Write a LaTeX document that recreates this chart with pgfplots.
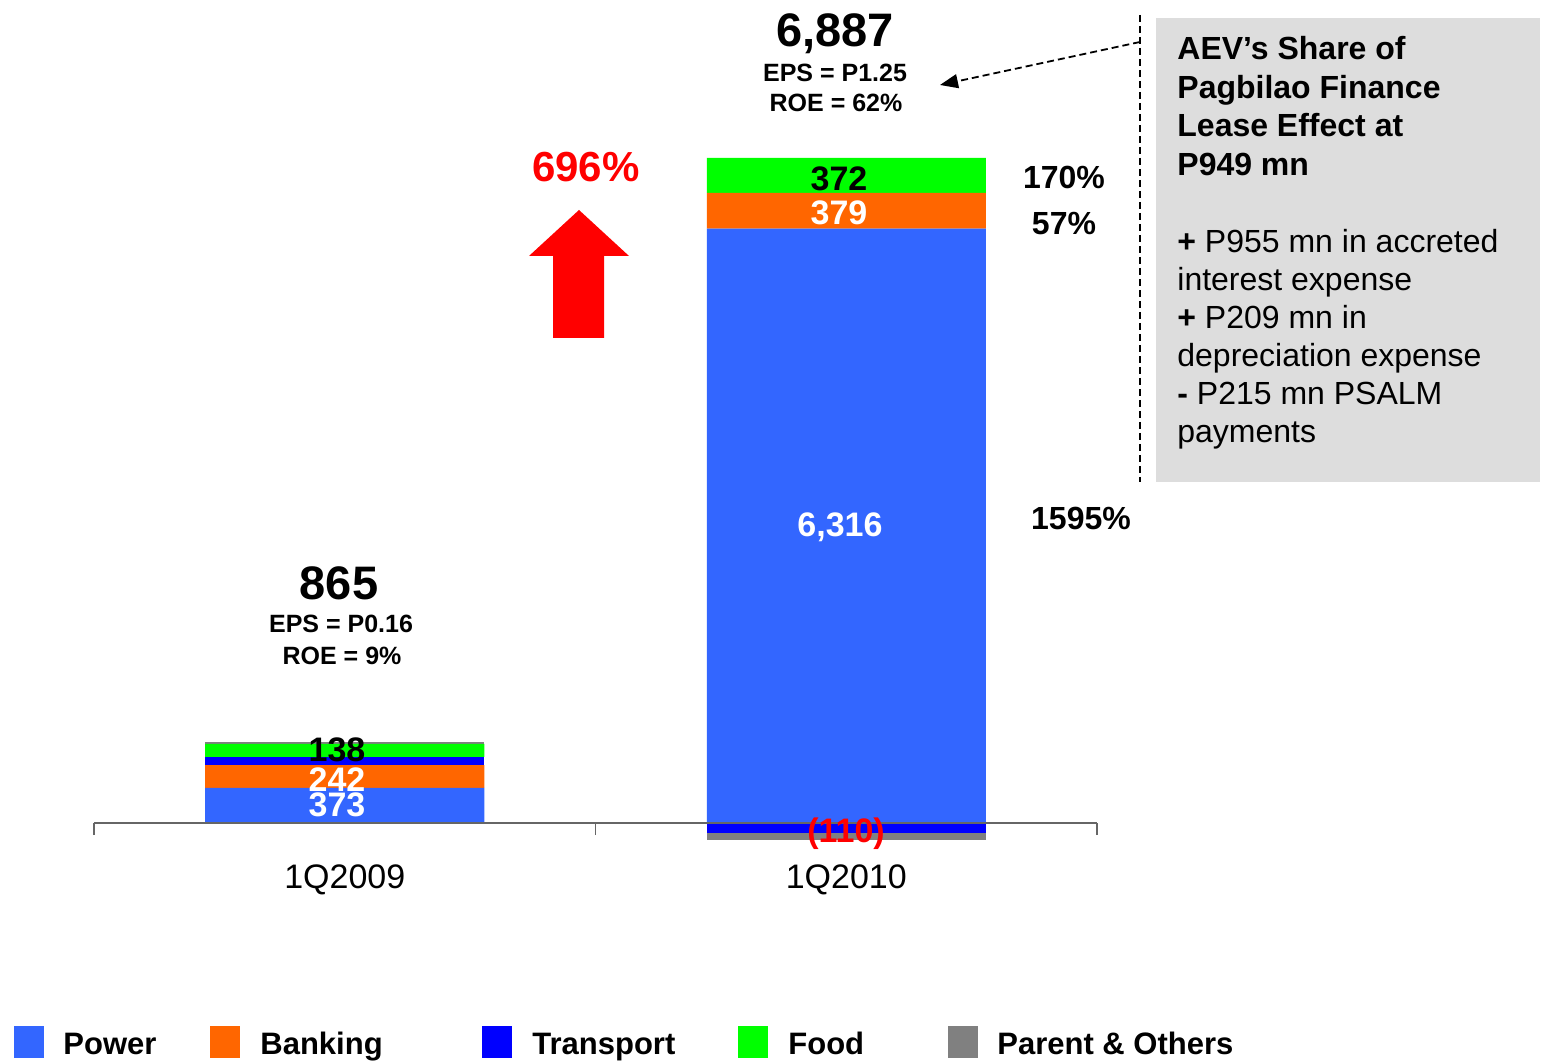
\documentclass[border=0pt]{standalone}
\usepackage{fontspec}
\setmainfont{Liberation Sans}
\usepackage{pgfplots}
\pgfplotsset{compat=1.18}
\usetikzlibrary{arrows.meta}
\definecolor{cPower}{HTML}{3366FF}
\definecolor{cBanking}{HTML}{FF6600}
\definecolor{cTransport}{HTML}{0000FF}
\definecolor{cFood}{HTML}{00FF00}
\definecolor{cParent}{HTML}{808080}
\definecolor{cBox}{HTML}{DDDDDD}
\newcommand{\fs}[1]{\fontsize{#1}{#1}\selectfont}
\begin{document}
\begin{tikzpicture}
% negative parts (1Q2010)
\begin{axis}[hide axis, at={(47pt,82.35pt)}, anchor=south west, scale only axis,
  width=501.5pt, height=414.05pt, xmin=-0.5, xmax=1.5, ymin=-800, ymax=8000,
  ybar stacked, bar width=139.5pt]
\addplot[fill=cTransport, draw=none] coordinates {(1,-110)};
\addplot[fill=cParent, draw=none] coordinates {(1,-70)};
\end{axis}
% positive parts
\begin{axis}[at={(47pt,82.35pt)}, anchor=south west, scale only axis,
  width=501.5pt, height=414.05pt, xmin=-0.5, xmax=1.5, ymin=-800, ymax=8000,
  ybar stacked, bar width=139.5pt, axis on top,
  axis x line*=middle, axis y line=none,
  xtick={0,1}, xticklabels={1Q2009,1Q2010},
  minor xtick={-0.5,0.5,1.5}, major tick length=0pt, minor tick length=6pt,
  tick align=outside,
  x axis line style={draw=gray!80!black, line width=0.8pt},
  tick style={draw=gray!80!black, line width=0.8pt},
  xticklabel style={font=\fs{17}, yshift=-17.5pt}]
\addplot[fill=cPower, draw=none] coordinates {(0,373) (1,6316)};
\addplot[fill=cBanking, draw=none] coordinates {(0,242) (1,379)};
\addplot[fill=cTransport, draw=none] coordinates {(0,88) (1,0)};
\addplot[fill=cFood, draw=none] coordinates {(0,138) (1,372)};
\addplot[fill=cParent, draw=none] coordinates {(0,24) (1,0)};
\end{axis}
\begin{scope}[x=0.5pt, y=-0.5pt, shift={(0pt,531.5pt)}]
% bar labels
\node[anchor=base, font=\bfseries\fs{17}, text=white] at (337,817) {373};
\node[anchor=base, font=\bfseries\fs{17}, text=white] at (337,792) {242};
\node[anchor=base, font=\bfseries\fs{17}, text=black] at (337,762) {138};
\node[anchor=base, font=\bfseries\fs{17}, text=black] at (839,191) {372};
\node[anchor=base, font=\bfseries\fs{17}, text=white] at (839,225) {379};
\node[anchor=base, font=\bfseries\fs{17}, text=white] at (840,537) {6,316};
\node[anchor=base, font=\bfseries\fs{17}, text=red] at (846,843) {(110)};
% growth
\node[anchor=base, font=\bfseries\fs{16}] at (1064,189) {170\%};
\node[anchor=base, font=\bfseries\fs{16}] at (1064,235) {57\%};
\node[anchor=base, font=\bfseries\fs{16}] at (1081,530) {1595\%};
% totals
\node[anchor=base, font=\bfseries\fs{23.5}] at (835,47) {6,887};
\node[anchor=base, font=\bfseries\fs{12.5}] at (835,82) {EPS = P1.25};
\node[anchor=base, font=\bfseries\fs{12.5}] at (836,112) {ROE = 62\%};
\node[anchor=base, font=\bfseries\fs{23.5}] at (339,600) {865};
\node[anchor=base, font=\bfseries\fs{12.5}] at (341,633) {EPS = P0.16};
\node[anchor=base, font=\bfseries\fs{12.5}] at (342,665) {ROE = 9\%};
% red arrow
\node[anchor=base, font=\bfseries\fs{21}, text=red] at (586,182) {696\%};
\fill[red] (579,210) -- (629,256) -- (604,256) -- (604,338) -- (553,338) -- (553,256) -- (529,256) -- cycle;
% note box
\fill[cBox] (1156,18) rectangle (1540,482);
\draw[black, line width=0.9pt, dash pattern=on 3.5pt off 2pt] (1140,15) -- (1140,482);
\draw[black, line width=0.9pt, dash pattern=on 3.5pt off 2pt, -{Triangle[length=9pt,width=7pt]}] (1140,42) -- (940,85);
\begin{scope}[every node/.style={anchor=base west, inner sep=0pt}]
\node[font=\bfseries\fs{16}] at (1177,60) {AEV’s Share of};
\node[font=\bfseries\fs{16}] at (1177,98.5) {Pagbilao Finance};
\node[font=\bfseries\fs{16}] at (1177,137) {Lease Effect at};
\node[font=\bfseries\fs{16}] at (1177,175.5) {P949 mn};
\node[font=\fs{16}] at (1177,253) {\textbf{+} P955 mn in accreted};
\node[font=\fs{16}] at (1177,291) {interest expense};
\node[font=\fs{16}] at (1177,329) {\textbf{+} P209 mn in};
\node[font=\fs{16}] at (1177,367) {depreciation expense};
\node[font=\fs{16}] at (1177,405) {\textbf{-} P215 mn PSALM};
\node[font=\fs{16}] at (1177,443) {payments};
% legend
\node[font=\bfseries\fs{15.5}] at (63,1055) {Power};
\node[font=\bfseries\fs{15.5}] at (260,1055) {Banking};
\node[font=\bfseries\fs{15.5}] at (532,1055) {Transport};
\node[font=\bfseries\fs{15.5}] at (788,1055) {Food};
\node[font=\bfseries\fs{15.5}] at (997,1055) {Parent \& Others};
\end{scope}
\fill[cPower] (14,1026) rectangle (44,1058);
\fill[cBanking] (210,1026) rectangle (240,1058);
\fill[cTransport] (482,1026) rectangle (512,1058);
\fill[cFood] (738,1026) rectangle (768,1058);
\fill[cParent] (948,1026) rectangle (978,1058);
\end{scope}
\pgfresetboundingbox
\path (0pt,0pt) rectangle (771.5pt,531.5pt);
\end{tikzpicture}
\end{document}
